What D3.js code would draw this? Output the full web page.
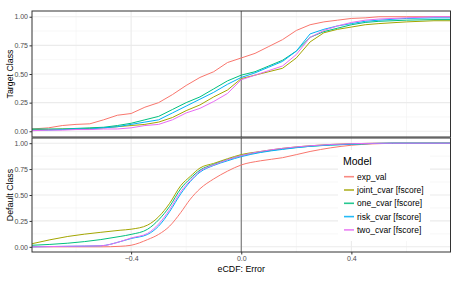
<!DOCTYPE html>
<html>
<head>
<meta charset="utf-8">
<script src="https://cdn.jsdelivr.net/npm/d3@7"></script>
<style>
  body { margin: 0; background: #fff; }
  svg { font-family: "Liberation Sans", Arial, sans-serif; }
</style>
</head>
<body>
<div id="chart-area"></div>
<script>
// model names and colours (ggplot default hue)
const models = ["exp_val", "joint_cvar [fscore]", "one_cvar [fscore]", "risk_cvar [fscore]", "two_cvar [fscore]"]
const colors = ["#F8766D", "#A3A500", "#00BF7D", "#00B0F6", "#E76BF3"]

// top panel: Target Class eCDF
const xTop = [-0.76, -0.70, -0.65, -0.60, -0.55, -0.50, -0.45, -0.40, -0.35, -0.30, -0.25, -0.20, -0.15, -0.10, -0.05, 0.00,
  0.05, 0.10, 0.15, 0.20, 0.25, 0.30, 0.35, 0.40, 0.45, 0.50, 0.60, 0.70, 0.76]
const topExp   = [0.02, 0.03, 0.05, 0.06, 0.065, 0.10, 0.14, 0.155, 0.21, 0.25, 0.32, 0.40, 0.47, 0.52, 0.60, 0.64,
  0.68, 0.74, 0.80, 0.88, 0.93, 0.955, 0.97, 0.985, 0.99, 1.0, 1.0, 1.0, 1.0]
const topJoint = [0.015, 0.015, 0.02, 0.02, 0.025, 0.03, 0.04, 0.05, 0.06, 0.08, 0.12, 0.18, 0.23, 0.30, 0.36, 0.46,
  0.49, 0.52, 0.55, 0.64, 0.78, 0.86, 0.89, 0.91, 0.93, 0.94, 0.955, 0.965, 0.965]
const topOne   = [0.02, 0.02, 0.02, 0.025, 0.03, 0.035, 0.05, 0.07, 0.10, 0.13, 0.19, 0.25, 0.30, 0.37, 0.44, 0.49,
  0.52, 0.57, 0.62, 0.70, 0.82, 0.87, 0.90, 0.93, 0.95, 0.96, 0.97, 0.975, 0.975]
const topRisk  = [0.01, 0.01, 0.015, 0.02, 0.02, 0.03, 0.04, 0.06, 0.08, 0.10, 0.16, 0.22, 0.28, 0.34, 0.41, 0.47,
  0.51, 0.56, 0.61, 0.70, 0.85, 0.89, 0.92, 0.94, 0.96, 0.97, 0.985, 0.99, 0.99]
const topTwo   = [0.005, 0.01, 0.01, 0.015, 0.015, 0.02, 0.02, 0.03, 0.05, 0.06, 0.10, 0.16, 0.20, 0.26, 0.33, 0.45,
  0.49, 0.53, 0.57, 0.67, 0.82, 0.88, 0.92, 0.95, 0.97, 0.98, 0.99, 1.0, 1.0]

// bottom panel: Default Class eCDF
const xBot = [-0.76, -0.63, -0.51, -0.44, -0.40, -0.34, -0.30, -0.26, -0.22, -0.185, -0.15, -0.10, -0.05, 0.00,
  0.07, 0.15, 0.25, 0.40, 0.55, 0.76]
const botExp   = [0.0, 0.0, 0.0, 0.005, 0.015, 0.07, 0.12, 0.20, 0.33, 0.46, 0.56, 0.655, 0.73, 0.79, 0.83, 0.86, 0.92, 0.98, 0.998, 1.0]
const botJoint = [0.03, 0.10, 0.14, 0.16, 0.17, 0.21, 0.29, 0.42, 0.59, 0.68, 0.76, 0.805, 0.85, 0.89, 0.92, 0.95, 0.975, 0.995, 1.0, 1.0]
const botOne   = [0.015, 0.035, 0.07, 0.10, 0.12, 0.17, 0.26, 0.39, 0.56, 0.66, 0.74, 0.795, 0.84, 0.88, 0.915, 0.945, 0.97, 0.99, 1.0, 1.0]
const botRisk  = [0.0, 0.005, 0.01, 0.05, 0.08, 0.12, 0.20, 0.34, 0.51, 0.63, 0.72, 0.785, 0.83, 0.87, 0.91, 0.94, 0.97, 0.99, 1.0, 1.0]
const botTwo   = [0.0, 0.005, 0.01, 0.05, 0.085, 0.13, 0.22, 0.36, 0.53, 0.64, 0.73, 0.79, 0.84, 0.88, 0.92, 0.95, 0.975, 0.995, 1.0, 1.0]

const yTicks = [0, 0.25, 0.5, 0.75, 1]
const xTicks = [-0.4, 0, 0.4]
const xMinor = [-0.6, -0.2, 0.2, 0.6]
const yMinor = [0.125, 0.375, 0.625, 0.875]

const W = 453, H = 283
const LEFT = 32, RIGHT = 450.5

const svg = d3.select("#chart-area").append("svg")
  .attr("width", W)
  .attr("height", H)

const x = d3.scaleLinear().domain([-0.76, 0.76]).range([LEFT, RIGHT])

const panels = [
  { label: "Target Class", top: 11, bottom: 137, xs: xTop, series: [topExp, topJoint, topOne, topRisk, topTwo], curve: d3.curveLinear },
  { label: "Default Class", top: 138, bottom: 252, xs: xBot, series: [botExp, botJoint, botOne, botRisk, botTwo], curve: d3.curveMonotoneX }
]

panels.forEach((p, pi) => {
  const h = p.bottom - p.top
  const y = d3.scaleLinear().domain([-0.05, 1.05]).range([p.bottom, p.top])
  const g = svg.append("g")

  // clip
  const clipId = "clip" + pi
  svg.append("clipPath").attr("id", clipId)
    .append("rect").attr("x", LEFT).attr("y", p.top).attr("width", RIGHT - LEFT).attr("height", h)

  g.append("rect").attr("x", LEFT).attr("y", p.top).attr("width", RIGHT - LEFT).attr("height", h).attr("fill", "#fff")

  // minor grid
  g.selectAll(".ym").data(yMinor).join("line")
    .attr("x1", LEFT).attr("x2", RIGHT)
    .attr("y1", d => y(d)).attr("y2", d => y(d))
    .attr("stroke", "#F2F2F2").attr("stroke-width", 0.6)
  g.selectAll(".xm").data(xMinor).join("line")
    .attr("x1", d => x(d)).attr("x2", d => x(d))
    .attr("y1", p.top).attr("y2", p.bottom)
    .attr("stroke", "#F2F2F2").attr("stroke-width", 0.6)
  // major grid
  g.selectAll(".yM").data(yTicks).join("line")
    .attr("x1", LEFT).attr("x2", RIGHT)
    .attr("y1", d => y(d)).attr("y2", d => y(d))
    .attr("stroke", "#EBEBEB").attr("stroke-width", 1.1)
  g.selectAll(".xM").data(xTicks).join("line")
    .attr("x1", d => x(d)).attr("x2", d => x(d))
    .attr("y1", p.top).attr("y2", p.bottom)
    .attr("stroke", "#EBEBEB").attr("stroke-width", 1.1)

  // vertical line at zero
  g.append("line")
    .attr("x1", x(0)).attr("x2", x(0))
    .attr("y1", p.top).attr("y2", p.bottom)
    .attr("stroke", "#6b6b6b").attr("stroke-width", 1)

  const line = d3.line()
    .x((d, i) => x(p.xs[i]))
    .y(d => y(d))
    .curve(p.curve)

  g.append("g").attr("clip-path", `url(#${clipId})`)
    .selectAll("path").data(p.series).join("path")
    .attr("fill", "none")
    .attr("stroke", (d, i) => colors[i])
    .attr("stroke-width", 1)
    .attr("d", d => line(d))

  // border
  g.append("rect").attr("x", LEFT).attr("y", p.top).attr("width", RIGHT - LEFT).attr("height", h)
    .attr("fill", "none").attr("stroke", "#333").attr("stroke-width", 1)

  // y axis
  const yAxis = svg.append("g")
    .attr("transform", `translate(${LEFT},0)`)
    .call(d3.axisLeft(y).tickValues(yTicks).tickFormat(d3.format(".2f")).tickSize(2.5).tickPadding(1.5))
  yAxis.select(".domain").remove()
  yAxis.selectAll("line").attr("stroke", "#333")
  yAxis.selectAll("text").attr("fill", "#4D4D4D").style("font-size", "7px").style("font-family", "Liberation Sans, Arial, sans-serif")

  svg.append("text")
    .attr("transform", `translate(12.5, ${(p.top + p.bottom) / 2}) rotate(-90)`)
    .attr("text-anchor", "middle")
    .attr("fill", "#000")
    .style("font-size", "8.8px")
    .text(p.label)

  if (pi === 1) {
    const xAxis = svg.append("g")
      .attr("transform", `translate(0,${p.bottom})`)
      .call(d3.axisBottom(x).tickValues(xTicks).tickFormat(d3.format(".1f")).tickSize(2.5).tickPadding(1.5))
    xAxis.select(".domain").remove()
    xAxis.selectAll("line").attr("stroke", "#333")
    xAxis.selectAll("text").attr("fill", "#4D4D4D").style("font-size", "7px").style("font-family", "Liberation Sans, Arial, sans-serif")

    svg.append("text")
      .attr("x", x(0)).attr("y", 272)
      .attr("text-anchor", "middle")
      .style("font-size", "8.8px")
      .text("eCDF: Error")
  }
})

// legend
const legend = svg.append("g").attr("transform", "translate(338,150)")
legend.append("rect").attr("width", 92).attr("height", 91).attr("fill", "#fff")
legend.append("text").attr("x", 5).attr("y", 15).style("font-size", "10.5px").text("Model")
const items = legend.selectAll(".item").data(models).join("g")
  .attr("transform", (d, i) => `translate(0,${26.7 + i * 13.3})`)
items.append("line")
  .attr("x1", 6).attr("x2", 16)
  .attr("stroke", (d, i) => colors[i]).attr("stroke-width", 1.6).attr("opacity", 0.85)
items.append("text")
  .attr("x", 19).attr("dy", "0.35em")
  .style("font-size", "8.5px")
  .text(d => d)
</script>
</body>
</html>
